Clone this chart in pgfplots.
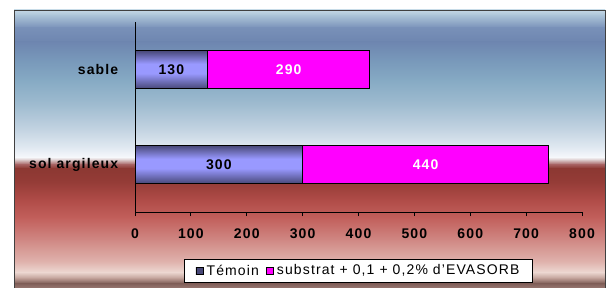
\documentclass[border=0pt]{standalone}
\usepackage{pgfplots}
\pgfplotsset{compat=1.18}
\usepackage{fontspec}
\setmainfont{Liberation Sans}[LetterSpace=8]
\definecolor{tem}{HTML}{9999FF}
\definecolor{temd}{HTML}{484878}
\definecolor{mag}{HTML}{FF00FF}
\definecolor{b01}{HTML}{C4D8E6}
\definecolor{b02}{HTML}{A8C0D6}
\definecolor{b03}{HTML}{7890B8}
\definecolor{b04}{HTML}{6E86B0}
\definecolor{b05}{HTML}{7898BA}
\definecolor{b06}{HTML}{86AAC4}
\definecolor{b07}{HTML}{A0BCD0}
\definecolor{b08}{HTML}{C4D4E2}
\definecolor{b09}{HTML}{E2EAF2}
\definecolor{b10}{HTML}{F6F8FB}
\definecolor{b11}{HTML}{D8C4C4}
\definecolor{b12}{HTML}{A86464}
\definecolor{b13}{HTML}{8C3832}
\definecolor{b14}{HTML}{953C37}
\definecolor{b15}{HTML}{B04C48}
\definecolor{b16}{HTML}{C2605C}
\definecolor{b17}{HTML}{D08884}
\definecolor{b18}{HTML}{E0B4AE}
\definecolor{b19}{HTML}{EDD8D2}
\definecolor{b20}{HTML}{C0A098}
\definecolor{b21}{HTML}{7E5C56}
\definecolor{b22}{HTML}{9C7C76}
% vertical shading covering both Témoin bars (path bbox mapped to 25bp..75bp)
\pgfdeclareverticalshading{temoinbars}{100bp}{%
  color(0bp)=(temd); color(25bp)=(temd); color(30.7bp)=(tem); color(34.3bp)=(tem);
  color(39.3bp)=(temd); color(60.7bp)=(temd); color(66.4bp)=(tem); color(70bp)=(tem);
  color(75bp)=(temd); color(100bp)=(temd)}
\begin{document}
\fontsize{14}{16}\selectfont
\begin{tikzpicture}[x=1pt,y=1pt]
\useasboundingbox (0,0) rectangle (612,287);
\shade[top color=b01,bottom color=b02] (14,277) rectangle (605,270.6);
\shade[top color=b02,bottom color=b03] (14,271) rectangle (605,258.6);
\shade[top color=b03,bottom color=b04] (14,259) rectangle (605,244.6);
\shade[top color=b04,bottom color=b05] (14,245) rectangle (605,226.6);
\shade[top color=b05,bottom color=b06] (14,227) rectangle (605,206.6);
\shade[top color=b06,bottom color=b07] (14,207) rectangle (605,181.6);
\shade[top color=b07,bottom color=b08] (14,182) rectangle (605,156.6);
\shade[top color=b08,bottom color=b09] (14,157) rectangle (605,138.6);
\shade[top color=b09,bottom color=b10] (14,139) rectangle (605,129.6);
\shade[top color=b10,bottom color=b11] (14,130) rectangle (605,126.6);
\shade[top color=b11,bottom color=b12] (14,127) rectangle (605,122.6);
\shade[top color=b12,bottom color=b13] (14,123) rectangle (605,118.6);
\shade[top color=b13,bottom color=b14] (14,119) rectangle (605,104.6);
\shade[top color=b14,bottom color=b15] (14,105) rectangle (605,86.6);
\shade[top color=b15,bottom color=b16] (14,87) rectangle (605,68.6);
\shade[top color=b16,bottom color=b17] (14,69) rectangle (605,46.6);
\shade[top color=b17,bottom color=b18] (14,47) rectangle (605,24.6);
\shade[top color=b18,bottom color=b19] (14,25) rectangle (605,14.6);
\shade[top color=b19,bottom color=b20] (14,15) rectangle (605,8.6);
\shade[top color=b20,bottom color=b21] (14,9) rectangle (605,3.6);
\shade[top color=b21,bottom color=b22] (14,4) rectangle (605,-2);
\draw[color=black!75, line width=0.9pt] (14,-2) -- (14,277) -- (605,277) -- (605,-2);
\begin{axis}[
  at={(135pt,75pt)}, anchor=south west,
  scale only axis, width=447pt, height=190pt,
  xbar stacked, bar width=38pt,
  xmin=0, xmax=800, ymin=-0.5, ymax=1.5,
  xtick={0,100,200,300,400,500,600,700,800},
  ytick={0,1}, yticklabels={sol argileux,sable},
  axis x line*=bottom, axis y line*=left,
  axis line style={-, black, line width=0.8pt},
  tick align=outside,
  xtick style={black, line width=0.8pt},
  major tick length=4pt,
  ytick style={draw=none},
  ticklabel style={font=\bfseries},
  /pgf/number format/assume math mode=true,
  xticklabel style={yshift=-8pt},
  yticklabel style={xshift=-8pt},
  legend style={at={(0.5,-0.2474)}, anchor=north, draw=black, fill=white,
    legend columns=2, font=\normalfont, inner xsep=11pt, inner ysep=3.5pt,
    /tikz/every odd column/.append style={column sep=1.5pt},
    /tikz/every even column/.append style={column sep=5pt}},
  legend image code/.code={\draw[#1, line width=0.6pt] (0pt,-3.5pt) rectangle (7pt,3.5pt);},
]
\addplot[draw=black, line width=0.8pt, shade, shading=temoinbars,
  legend image code/.code={\draw[draw=black, line width=0.6pt, top color=temd, middle color=tem, bottom color=temd] (0pt,-3.5pt) rectangle (7pt,3.5pt);}]
  coordinates {(300,0) (130,1)};
\addlegendentry{Témoin}
\addplot[draw=black, line width=0.8pt, fill=mag] coordinates {(440,0) (290,1)};
\addlegendentry{substrat + 0,1 + 0,2\% d'EVASORB}
\end{axis}
\begin{axis}[
  at={(135pt,75pt)}, anchor=south west,
  scale only axis, width=447pt, height=190pt,
  xmin=0, xmax=800, ymin=-0.5, ymax=1.5, hide axis]
\addplot[only marks, mark=none, nodes near coords, point meta=explicit symbolic,
  nodes near coords style={anchor=center, font=\bfseries, text=black}]
  coordinates {(65,1)[130] (150,0)[300]};
\addplot[only marks, mark=none, nodes near coords, point meta=explicit symbolic,
  nodes near coords style={anchor=center, font=\bfseries, text=white}]
  coordinates {(275,1)[290] (520,0)[440]};
\end{axis}
\end{tikzpicture}
\end{document}
